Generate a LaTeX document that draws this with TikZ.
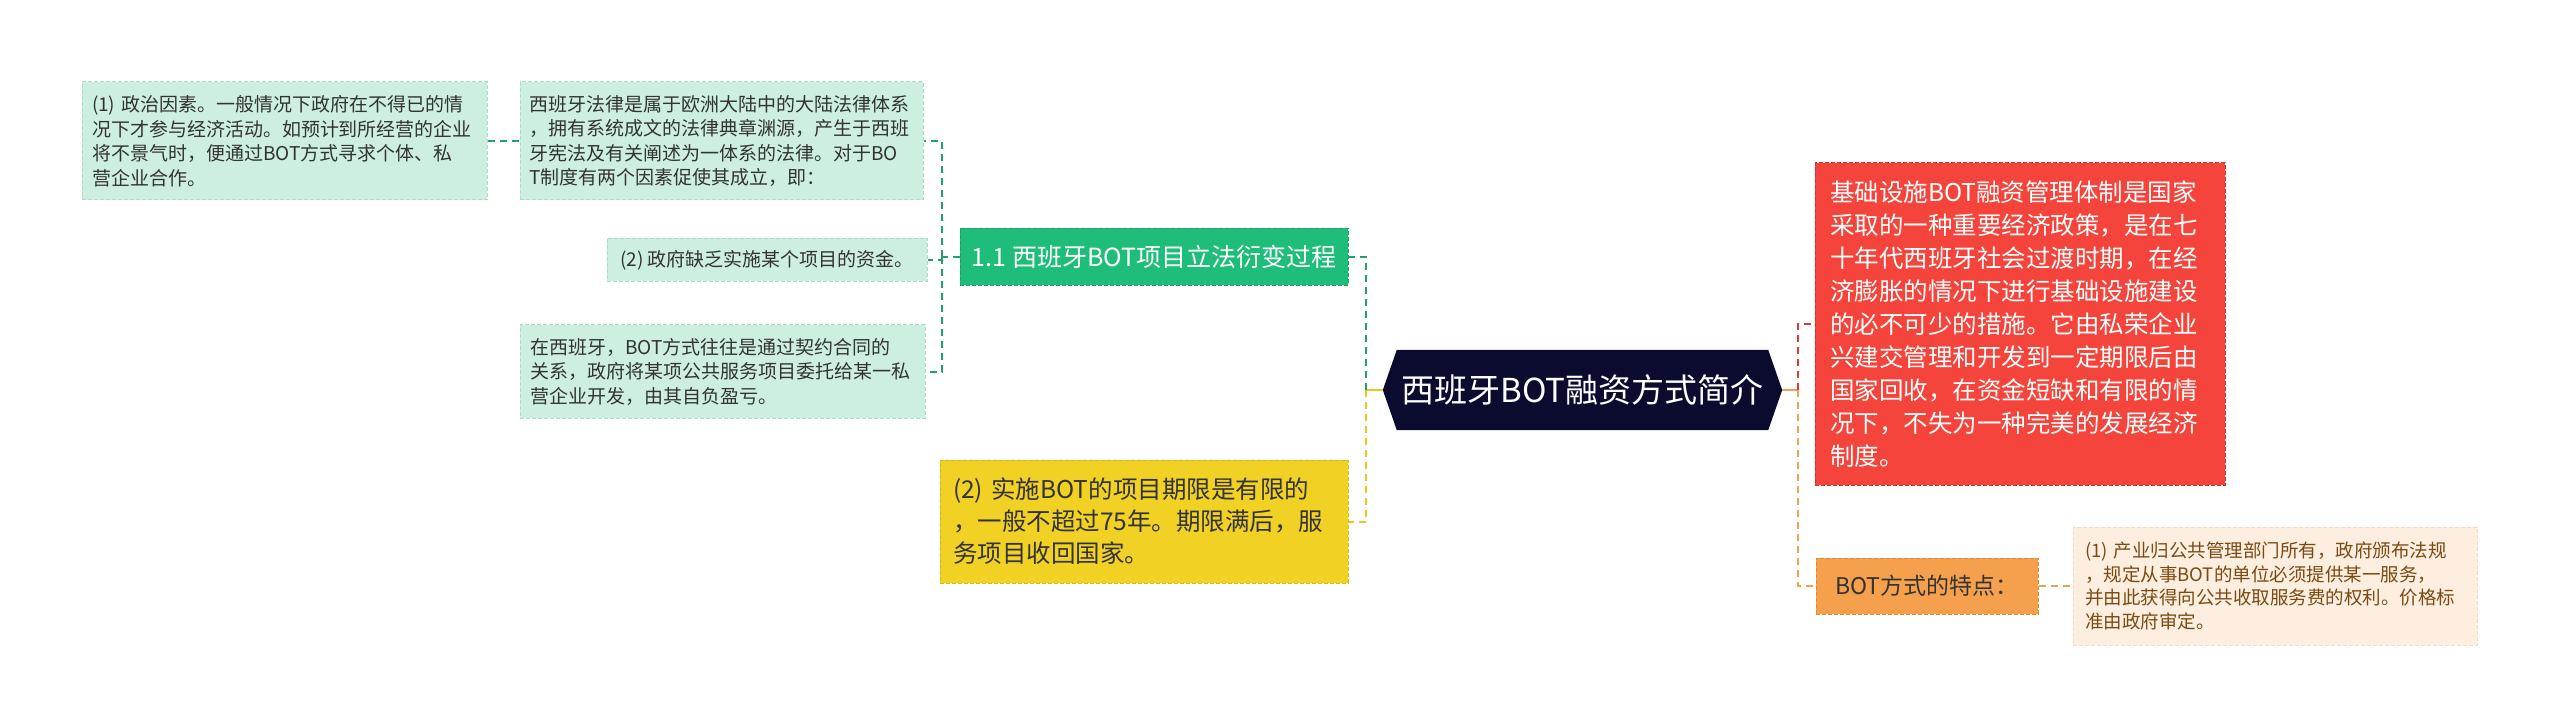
\documentclass[tikz,border=0pt]{standalone}
\usepackage{fontspec}
\setmainfont{Noto Sans CJK SC}
\usetikzlibrary{backgrounds,calc}
\definecolor{mint}{HTML}{CDEFE0}
\definecolor{mintline}{HTML}{A9DDC6}
\definecolor{txt}{HTML}{333333}
\definecolor{glinkc}{HTML}{22A06B}
\definecolor{gfill}{HTML}{1EBE7A}
\definecolor{gline}{HTML}{17A366}
\definecolor{yfill}{HTML}{F0D124}
\definecolor{yline}{HTML}{D9B810}
\definecolor{ylinkc}{HTML}{E8C820}
\definecolor{navy}{HTML}{0B0B2F}
\definecolor{rfill}{HTML}{F5443B}
\definecolor{rline}{HTML}{D42F28}
\definecolor{rlinkc}{HTML}{D73B3B}
\definecolor{ofill}{HTML}{F5A04C}
\definecolor{oline}{HTML}{E08A30}
\definecolor{olinkc}{HTML}{EFA050}
\definecolor{pfill}{HTML}{FDEEE0}
\definecolor{pline}{HTML}{F5D9C0}
\definecolor{plinkc}{HTML}{E0A468}
\definecolor{brown}{HTML}{7B4A12}
\begin{document}
\begin{tikzpicture}[x=1pt,y=-1pt,
  bx/.style={inner sep=0pt, align=left, line width=1pt, dash pattern=on 4pt off 2pt},
  mintbox/.style={bx, fill=mint, draw=mintline, text=txt, font=\fontsize{19}{24.5}\selectfont},
  greenbox/.style={bx, fill=gfill, draw=gline, text=white, font=\fontsize{25}{30}\selectfont},
  yellowbox/.style={bx, fill=yfill, draw=yline, text=txt, font=\fontsize{24.5}{32}\selectfont},
  redbox/.style={bx, fill=rfill, draw=rline, text=white, font=\fontsize{24.5}{33}\selectfont},
  orangebox/.style={bx, fill=ofill, draw=oline, text=txt, font=\fontsize{23}{28}\selectfont},
  peachbox/.style={bx, fill=pfill, draw=pline, text=brown, font=\fontsize{18.5}{23.5}\selectfont},
  rootbox/.style={inner sep=0pt, text=white, font=\fontsize{33}{38}\selectfont},
  link/.style={line width=2pt, dash pattern=on 7pt off 5pt},
  solidlink/.style={line width=2pt},
]
\useasboundingbox (0,0) rectangle (2560,727);

% left column
\node[mintbox, minimum width=405, minimum height=118, text width=385] (A) at (284.5,141) {(1) 政治因素。一般情况下政府在不得已的情\\况下才参与经济活动。如预计到所经营的企业\\将不景气时，便通过BOT方式寻求个体、私\\营企业合作。};
\node[mintbox, minimum width=403, minimum height=118, text width=385] (B) at (721.5,141) {西班牙法律是属于欧洲大陆中的大陆法律体系\\，拥有系统成文的法律典章渊源，产生于西班\\牙宪法及有关阐述为一体系的法律。对于BO\\T制度有两个因素促使其成立，即：};
\node[mintbox, minimum width=320, minimum height=43] (C) at (767,260) {(2) 政府缺乏实施某个项目的资金。};
\node[mintbox, minimum width=405, minimum height=93, text width=385] (D) at (722.5,371.5) {在西班牙，BOT方式往往是通过契约合同的\\关系，政府将某项公共服务项目委托给某一私\\营企业开发，由其自负盈亏。};

% second level left
\node[greenbox, minimum width=388, minimum height=57] (E) at (1154,257) {1.1 西班牙BOT项目立法衍变过程};
\node[yellowbox, minimum width=408, minimum height=123, text width=382] (F) at (1144,521.5) {(2) 实施BOT的项目期限是有限的\\，一般不超过75年。期限满后，服\\务项目收回国家。};

% root
\node[rootbox, minimum width=371, minimum height=80] (G) at (1582.5,390) {西班牙BOT融资方式简介};
\coordinate (Gl) at ($(G.west)+(-14,0)$);
\coordinate (Gr) at ($(G.east)+(14,0)$);
\begin{pgfonlayer}{background}
\fill[navy] (G.north west) -- (G.north east) -- (Gr) -- (G.south east) -- (G.south west) -- (Gl) -- cycle;
\end{pgfonlayer}

% right side
\node[redbox, minimum width=410, minimum height=322, text width=380] (H) at (2020,324) {基础设施BOT融资管理体制是国家\\采取的一种重要经济政策，是在七\\十年代西班牙社会过渡时期，在经\\济膨胀的情况下进行基础设施建设\\的必不可少的措施。它由私荣企业\\兴建交管理和开发到一定期限后由\\国家回收，在资金短缺和有限的情\\况下，不失为一种完美的发展经济\\制度。};
\node[orangebox, minimum width=222, minimum height=56] (I) at (1927,586) {BOT方式的特点：};
\node[peachbox, minimum width=404, minimum height=118, text width=380] (J) at (2275,586) {(1) 产业归公共管理部门所有，政府颁布法规\\，规定从事BOT的单位必须提供某一服务，\\并由此获得向公共收取服务费的权利。价格标\\准由政府审定。};

% connectors
\coordinate (jL) at (942,257);
\coordinate (jC) at (1366,390);
\coordinate (jR) at (1798,390);

\draw[link, glinkc] (A.east) -- (B.west);
\draw[link, glinkc] (E.west) -- (jL);
\draw[link, glinkc] (jL) |- (B.east);
\draw[link, glinkc] (jL) |- (C.east);
\draw[link, glinkc] (jL) |- (D.east);

\draw[solidlink, ylinkc] (Gl) -- (jC);
\draw[link, glinkc] (jC) |- (E.east);
\draw[link, ylinkc] (jC) |- (F.east);

\draw[solidlink, olinkc] (Gr) -- (jR);
\draw[link, rlinkc] (jR) |- (H.west);
\draw[link, olinkc] (jR) |- (I.west);
\draw[link, plinkc] (I.east) -- (J.west);
\end{tikzpicture}
\end{document}
